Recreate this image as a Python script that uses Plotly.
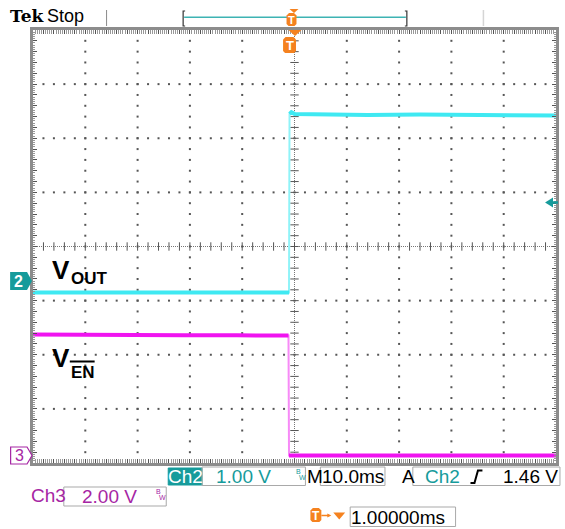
import plotly.graph_objects as go

# ---------------- data ----------------
# Ch2 : V_OUT, 1.00 V/div  (time in ms, trigger at t = 0)
vout_t = [-49.0, -40.0, -30.0, -20.0, -10.0, -0.05, 0.05, 0.4, 1.0, 5.0, 15.0, 25.0, 35.0, 45.0, 51.0]
vout_v = [-0.20, -0.20, -0.21, -0.20, -0.20, -0.20, 3.10, 3.13, 3.10, 3.09, 3.08, 3.09, 3.08, 3.08, 3.07]
# Ch3 : V_EN (active low), 2.00 V/div
ven_t = [-49.0, -40.0, -30.0, -20.0, -10.0, -0.15, -0.05, 5.0, 15.0, 25.0, 35.0, 45.0, 51.0]
ven_v = [4.45, 4.43, 4.42, 4.42, 4.42, 4.41, -0.02, -0.02, -0.03, -0.02, -0.02, -0.02, -0.02]
vout_edge = 6   # index of first point after the rising edge
ven_edge = 6    # index of first point after the falling edge

trig_level = 1.46          # V on Ch2
ch2_scale = "1.00 V"
ch3_scale = "2.00 V"
timebase = "10.0ms"
delay = "1.00000ms"

# ---------------- geometry helpers ----------------
W, H = 565, 529
L, R, T, B = 33, 559, 30, 463
TEAL = "#169b9b"
MAG = "#a626a4"
ORANGE = "#f5821f"
CYAN = "#3fe9f2"
CYAN_EDGE = "#8ff3f8"
PINK = "#f014f0"
PINK_EDGE = "#f78af7"
FONT = "Liberation Sans, Arial, sans-serif"


def X(px):
    return (px - L) / (R - L)


def Y(py):
    return (B - py) / (B - T)


def path(pts, close=True):
    s = "M " + " L ".join(f"{X(x):.5f},{Y(y):.5f}" for x, y in pts)
    return s + (" Z" if close else "")


shapes = []
annots = []


def poly(pts, fill=None, line=None, lw=1, close=True):
    shapes.append(dict(type="path", xref="paper", yref="paper", path=path(pts, close),
                       fillcolor=fill if fill else "rgba(0,0,0,0)",
                       line=dict(color=line if line else "rgba(0,0,0,0)", width=lw if line else 0),
                       layer="above"))


def seg(x0, y0, x1, y1, color, w=1):
    shapes.append(dict(type="line", xref="paper", yref="paper", x0=X(x0), y0=Y(y0), x1=X(x1), y1=Y(y1),
                       line=dict(color=color, width=w), layer="above"))


def box(x0, y0, x1, y1, line="#a9a9a9", fill=None):
    shapes.append(dict(type="rect", xref="paper", yref="paper", x0=X(x0), y0=Y(y0), x1=X(x1), y1=Y(y1),
                       line=dict(color=line, width=1), fillcolor=fill if fill else "rgba(0,0,0,0)",
                       layer="above"))


def txt(px, py, text, size=18, color="black", anchor="left", family=FONT):
    annots.append(dict(x=X(px), y=Y(py), xref="paper", yref="paper", text=text, showarrow=False,
                       xanchor=anchor, yanchor="middle", font=dict(size=size, color=color, family=family),
                       borderpad=0))


def tmark(cx, top, w=11, h=14, fs=12):
    x0, x1 = cx - w / 2, cx + w / 2
    poly([(x0 + 2.5, top), (x1 - 2.5, top), (x1, top + 2.5), (x1, top + h - 2), (x1 - 2, top + h),
          (x0 + 2, top + h), (x0, top + h - 2), (x0, top + 2.5)], fill=ORANGE)
    txt(cx, top + h / 2 + 0.5, "<b>T</b>", size=fs, color="white", anchor="center")


fig = go.Figure()

# ---------------- graticule ----------------
gx, gy = [], []
for k in [-4, -3, -2, -1, 1, 2, 3, 4]:
    for j in range(-19, 20):
        gx.append(1 + 10 * k)
        gy.append(j * 0.2)
for j in [-3, -2, -1, 1, 2, 3]:
    for m in range(-24, 25):
        gx.append(1 + 2 * m)
        gy.append(j)
fig.add_trace(go.Scatter(x=gx, y=gy, mode="markers", hoverinfo="skip", showlegend=False,
                         marker=dict(symbol="square", size=2, color="#555555", line=dict(width=0))))

# center cross, dense dotted with ticks
shapes.append(dict(type="line", xref="x", yref="y", x0=-49, x1=51, y0=0, y1=0,
                   line=dict(color="#777777", width=1, dash="1px,1px"), layer="below"))
shapes.append(dict(type="line", xref="x", yref="y", x0=1, x1=1, y0=-4, y1=4,
                   line=dict(color="#777777", width=1, dash="1px,1px"), layer="below"))
fig.add_trace(go.Scatter(x=[1 + 2 * m for m in range(-24, 25)], y=[0] * 49, mode="markers",
                         hoverinfo="skip", showlegend=False,
                         marker=dict(symbol="line-ns", size=6, line=dict(width=1, color="#555555"))))
fig.add_trace(go.Scatter(x=[1] * 39, y=[j * 0.2 for j in range(-19, 20)], mode="markers",
                         hoverinfo="skip", showlegend=False,
                         marker=dict(symbol="line-ew", size=6, line=dict(width=1, color="#555555"))))

# ---------------- waveforms ----------------
# thin, lighter full traces (visible on the fast edges)
fig.add_trace(go.Scatter(x=ven_t, y=ven_v, yaxis="y3", mode="lines", hoverinfo="skip", showlegend=False,
                         line=dict(color=PINK_EDGE, width=2)))
fig.add_trace(go.Scatter(x=vout_t, y=vout_v, yaxis="y2", mode="lines", hoverinfo="skip", showlegend=False,
                         line=dict(color=CYAN_EDGE, width=2)))
# thick plateau bands
for xs, ys, ax, col in [(ven_t[:ven_edge], ven_v[:ven_edge], "y3", PINK),
                        (ven_t[ven_edge:], ven_v[ven_edge:], "y3", PINK),
                        (vout_t[:vout_edge], vout_v[:vout_edge], "y2", CYAN),
                        (vout_t[vout_edge:], vout_v[vout_edge:], "y2", CYAN)]:
    fig.add_trace(go.Scatter(x=xs, y=ys, yaxis=ax, mode="lines", hoverinfo="skip", showlegend=False,
                             line=dict(color=col, width=4)))

# ---------------- top header ----------------
txt(9, 16.5, "<b>Tek</b>", size=17, family="DejaVu Serif, serif")
txt(46, 16.5, "Stop", size=18)
seg(107, 10, 107, 26, "#8a8a8a", 1)
seg(486, 10, 486, 26, "#d5d5d5", 1.5)
# record bar
seg(185, 17.3, 408, 17.3, "#3db3b3", 1.5)
poly([(186, 11), (184, 11), (184, 26), (186, 26)], line="#333333", lw=1.2, close=False)
poly([(407, 11), (409, 11), (409, 26), (407, 26)], line="#333333", lw=1.2, close=False)
poly([(291, 9), (300, 9), (295.5, 13)], fill=ORANGE)
tmark(293, 13, w=10, h=13, fs=11)
# expansion point & trigger marker under top border
poly([(290, 30), (303, 30), (296.5, 36)], fill=ORANGE)
tmark(291, 37, w=13, h=16, fs=13)

# ---------------- channel markers ----------------
poly([(10, 272), (27, 272), (32, 281), (27, 290), (10, 290)], fill=TEAL)
txt(18.5, 281, "<b>2</b>", size=16, color="white", anchor="center")
poly([(10.5, 447), (27, 447), (32, 455.5), (27, 464), (10.5, 464)], fill="white", line=MAG, lw=1.2)
txt(19, 455.5, "3", size=16, color=MAG, anchor="center")
# trigger level arrow (right)
poly([(548, 202.5), (556, 197.5), (556, 207.5)], fill=TEAL)
seg(555, 202.5, 561, 202.5, TEAL, 2.5)

# ---------------- signal labels ----------------
txt(51, 270, "<b>V</b>", size=26)
txt(70, 278, "<b>OUT</b>", size=17)
txt(51, 358, "<b>V</b>", size=26)
txt(70, 372.5, "<b>EN</b>", size=17)
seg(70, 361.5, 95, 361.5, "black", 2)

# ---------------- bottom status bar ----------------
box(169, 468, 203, 485, line=TEAL, fill=TEAL)
txt(186, 476.5, "Ch2", size=19, color="white", anchor="center")
box(203, 467, 307, 485.5)
txt(245, 476.5, ch2_scale, size=19, color=TEAL, anchor="center")
txt(300, 471, "B", size=7, color=TEAL, anchor="center")
txt(304, 477, "W", size=7, color=TEAL, anchor="center")
txt(308, 476.5, "M", size=19)
box(322, 467, 387, 485.5)
txt(355, 476.5, timebase, size=19, anchor="center")
txt(403, 476.5, "A", size=19)
box(415, 467, 563, 485.5)
txt(445, 476.5, "Ch2", size=19, color=TEAL, anchor="center")
poly([(473, 483), (477, 483), (480.5, 470.5), (485, 470.5)], line="black", lw=2, close=False)
txt(562, 476.5, f"{trig_level:.2f} V", size=19, anchor="right")

txt(30, 496, "Ch3", size=19, color=MAG)
box(64, 487, 167, 506)
txt(110, 496.5, ch3_scale, size=19, color=MAG, anchor="center")
txt(159, 491, "B", size=7, color=MAG, anchor="center")
txt(163.5, 497, "W", size=7, color=MAG, anchor="center")

tmark(317.5, 508, w=11, h=14)
seg(323, 515.5, 331, 515.5, ORANGE, 1.5)
poly([(329, 513.5), (333, 515.5), (329, 517.5)], fill=ORANGE)
poly([(335, 512.5), (347, 512.5), (341, 519.5)], fill=ORANGE)
box(352, 507, 458, 526.5)
txt(400, 517, delay, size=19, anchor="center")

# ---------------- axes ----------------
common = dict(showgrid=False, zeroline=False, showline=True, linecolor="#8c8c8c", linewidth=3,
              mirror="allticks", ticks="inside", ticklen=4, tickwidth=1, tickcolor="#555555",
              showticklabels=False, fixedrange=True)
fig.update_layout(
    width=W, height=H,
    margin=dict(l=L, r=W - R, t=T, b=H - B, pad=0),
    paper_bgcolor="white", plot_bgcolor="white",
    showlegend=False,
    xaxis=dict(range=[-49, 51], tick0=1, dtick=2,
               minor=dict(ticks="inside", tick0=1, dtick=0.4, ticklen=2, tickcolor="#999999"), **common),
    yaxis=dict(range=[-4, 4], tick0=0, dtick=0.2,
               minor=dict(ticks="inside", tick0=0, dtick=0.04, ticklen=2, tickcolor="#999999"), **common),
    yaxis2=dict(range=[-3.35, 4.65], overlaying="y", visible=False, fixedrange=True),
    yaxis3=dict(range=[-0.296, 15.70], overlaying="y", visible=False, fixedrange=True),
    shapes=shapes,
    annotations=annots,
)

fig.write_html("out.html", config={"displayModeBar": False},
               post_script="document.body.style.margin='0';document.body.style.overflow='hidden';")
